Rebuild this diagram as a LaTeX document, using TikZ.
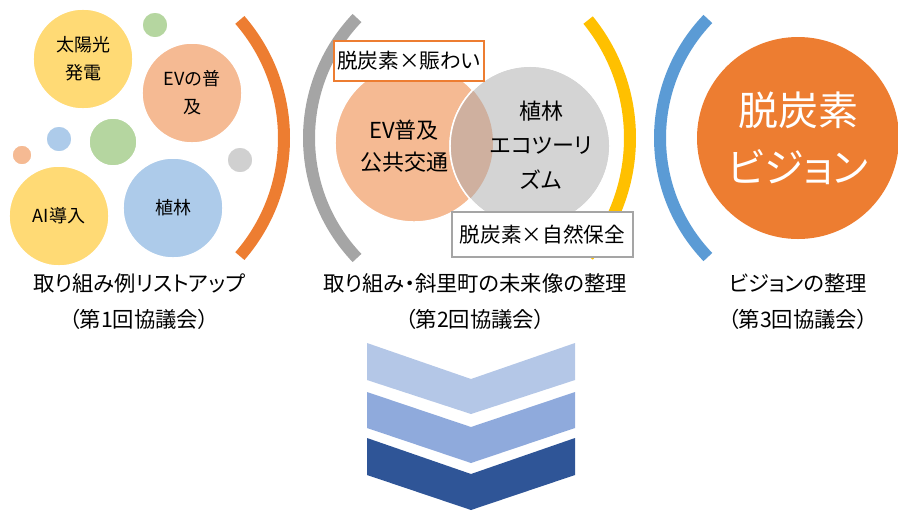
\documentclass[tikz,border=0pt]{standalone}
\usepackage{fontspec}
\setmainfont[RawFeature=+palt]{Noto Sans CJK JP}
\definecolor{cyel}{HTML}{FFDA75}
\definecolor{csal}{HTML}{F5BA93}
\definecolor{cgrn}{HTML}{B5D6A0}
\definecolor{cblu}{HTML}{ADCBEA}
\definecolor{cgsm}{HTML}{D0D0D0}
\definecolor{cgry}{HTML}{D4D4D4}
\definecolor{covl}{HTML}{CFB09F}
\definecolor{corg}{HTML}{ED7D31}
\definecolor{carcg}{HTML}{A5A5A5}
\definecolor{cgold}{HTML}{FFC000}
\definecolor{cblue}{HTML}{5B9BD5}
\definecolor{chv1}{HTML}{B4C7E7}
\definecolor{chv2}{HTML}{8FAADC}
\definecolor{chv3}{HTML}{2F5597}
\begin{document}
\begin{tikzpicture}[x=0.75pt,y=0.75pt,
  bub/.style={circle, draw=white, line width=1.1pt, inner sep=0pt, minimum size=#1, align=center,
    font=\fontsize{13.5}{21}\selectfont},
  arcline/.style={line width=9pt, line cap=butt},
  lab/.style={align=center, font=\fontsize{16}{27}\selectfont},
  mid/.style={align=center, font=\fontsize{16.5}{24}\selectfont},
  kbox/.style={fill=white, inner sep=0pt, font=\fontsize{15.5}{18}\selectfont}]
\useasboundingbox (0,0) rectangle (898,-511);
% ---- left group
\node[bub=75pt, fill=cyel] (solar) at (83,-59) {太陽光\\発電};
\node[bub=19.5pt, fill=cgrn] (g1) at (155,-25) {};
\node[bub=75pt, fill=csal] (ev) at (192,-93) {EVの普\\及};
\node[bub=19.5pt, fill=cblu] (b1) at (59,-139) {};
\node[bub=36pt, fill=cgrn] (g2) at (113,-142) {};
\node[bub=15pt, fill=csal] (s1) at (22,-155) {};
\node[bub=19.5pt, fill=cgsm] (gr1) at (240,-160) {};
\node[bub=75pt, fill=cyel] (ai) at (59,-216) {AI導入};
\node[bub=75pt, fill=cblu] (tree) at (173,-208) {植林};
\draw[arcline, corg] (104,-138) ++(-41:180) arc[start angle=-41, end angle=41, radius=135pt];
% ---- middle group
\draw[arcline, carcg] (483,-138) ++(136.4:174) arc[start angle=136.4, end angle=223.6, radius=130.5pt];
\draw[arcline, cgold] (443,-138) ++(-39.1:187) arc[start angle=-39.1, end angle=39.1, radius=140.25pt];
\node[bub=118.5pt, fill=csal] (sal) at (414,-143) {};
\node[bub=120pt, fill=cgry] (gc) at (530,-146) {};
\begin{scope}
  \clip (sal.center) circle[radius=59.25pt];
  \fill[covl] (gc.center) circle[radius=60pt];
\end{scope}
\draw[white, line width=1.1pt] (gc.center) circle[radius=60pt];
\node[mid] (t1) at (404,-146) {EV普及\\公共交通};
\node[mid, font=\fontsize{16.5}{26}\selectfont] (t2) at (541,-145) {植林\\エコツーリ\\ズム};
\node[kbox, draw=corg, line width=1.6pt, minimum width=112.5pt, minimum height=30pt] (k1) at (409,-61) {脱炭素×賑わい};
\node[kbox, draw=carcg, line width=1.9pt, minimum width=135.75pt, minimum height=33.75pt] (k2) at (542.5,-234.5) {脱炭素×自然保全};
% ---- right group
\draw[arcline, cblue] (832,-138) ++(136.2:172) arc[start angle=136.2, end angle=223.8, radius=129pt];
\node[circle, fill=corg, minimum size=151.5pt, inner sep=0pt, text=white, align=center,
  font=\fontsize{30}{43}\selectfont] (vis) at (798,-138) {脱炭素\\ビジョン};
% ---- labels
\node[lab] (l1) at (139,-302) {取り組み例リストアップ\\（第1回協議会）};
\node[lab] (l2) at (475,-302) {取り組み・斜里町の未来像の整理\\（第2回協議会）};
\node[lab] (l3) at (798,-302) {ビジョンの整理\\（第3回協議会）};
% ---- chevrons
\fill[chv1] (367,-343) -- (471,-379) -- (575,-343) -- (575,-380) -- (471,-414) -- (367,-380) -- cycle;
\fill[chv2] (367,-392) -- (471,-427) -- (575,-392) -- (575,-428) -- (471,-463) -- (367,-428) -- cycle;
\fill[chv3] (367,-438) -- (471,-474) -- (575,-438) -- (575,-475) -- (471,-510) -- (367,-475) -- cycle;
\end{tikzpicture}
\end{document}
